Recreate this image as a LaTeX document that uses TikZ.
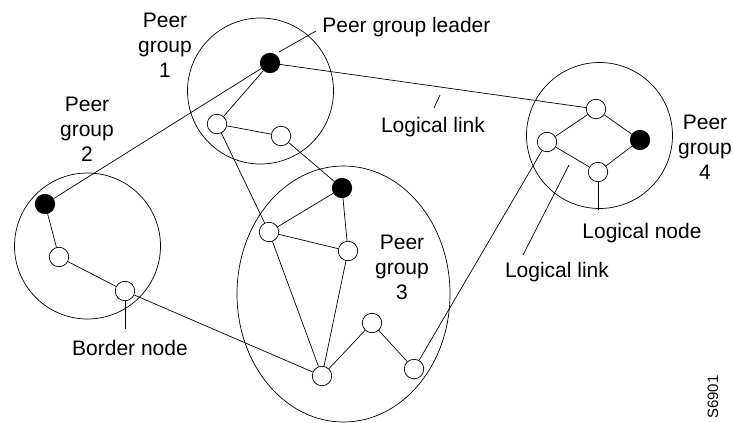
\documentclass[tikz,border=0pt]{standalone}
\usepackage{fontspec}
\setmainfont{Liberation Sans}

\begin{document}
\begin{tikzpicture}[x=1pt,y=-1pt,line width=0.7pt,
    pnode/.style={circle,draw,fill=white,inner sep=0pt,minimum size=19.5pt},
    lnode/.style={pnode,fill=black},
    lbl/.style={font=\fontsize{21}{25}\selectfont,align=center,inner sep=0pt}]
        \useasboundingbox (0,0) rectangle (734,423);
        % peer groups
        \draw (260.5,91) circle[radius=73pt];
        \draw (87.5,246) circle[radius=73pt];
        \draw (343.5,294) ellipse[x radius=106.5pt,y radius=128pt];
        \draw (599.5,135.5) circle[radius=73pt];
        % nodes
        \foreach \n/\x/\y in {g1lead/270/63,g2lead/45/204,g3lead/342/188,g4lead/640/140}
          \node[lnode] (\n) at (\x,\y) {};
        \foreach \n/\x/\y in {g1a/217/124,g1b/281/136,g2a/59/257,g2b/125/291,
                              g3a/269/232,g3b/348/251,g3c/322/376,g3d/372/323,g3e/414/369,
                              g4a/596/109,g4b/547/142,g4c/598/172}
          \node[pnode] (\n) at (\x,\y) {};
        % links
        \foreach \a/\b in {g1lead/g4a,g1lead/g1a,g1lead/g2lead,g1a/g1b,g1a/g3a,g1b/g3lead,
                           g3lead/g3a,g3lead/g3b,g3a/g3b,g3a/g3c,g3b/g3c,g3c/g3d,g3d/g3e,
                           g3e/g4b,g2lead/g2a,g2a/g2b,g2b/g3c,
                           g4b/g4a,g4a/g4lead,g4b/g4c,g4c/g4lead}
          \draw (\a) -- (\b);
        % labels
        \node[lbl] (pg1) at (165,45) {Peer\\group\\1};
        \node[lbl] (pg2) at (87,129) {Peer\\group\\2};
        \node[lbl] (pg3) at (402,267) {Peer\\group\\3};
        \node[lbl] (pg4) at (705,147) {Peer\\group\\4};
        \node[lbl,anchor=west] (leadtxt) at (322,27) {Peer group leader};
        \node[lbl] (linktxt) at (433,127) {Logical link};
        \node[lbl] (nodetxt) at (642,233) {Logical node};
        \node[lbl] (linktxtb) at (557,272) {Logical link};
        \node[lbl] (bordertxt) at (130,347.5) {Border node};
        \node[font=\fontsize{15}{18}\selectfont,rotate=90,inner sep=0pt] (fig) at (713,397) {S6901};
        % pointers
        \coordinate (leadtick) at (279,52);
        \coordinate (leadend) at (316,31);
        \coordinate (linktick) at (440,95);
        \coordinate (linkend) at (434,108);
        \coordinate (linktickb) at (569,165);
        \coordinate (linkendb) at (523,255);
        \coordinate (nodeend) at (598,210);
        \coordinate (borderend) at (125,329);
        \draw (leadtick) -- (leadend);
        \draw (linktick) -- (linkend);
        \draw (linktickb) -- (linkendb);
        \draw (g4c) -- (nodeend);
        \draw (g2b) -- (borderend);
      \end{tikzpicture}
\end{document}
